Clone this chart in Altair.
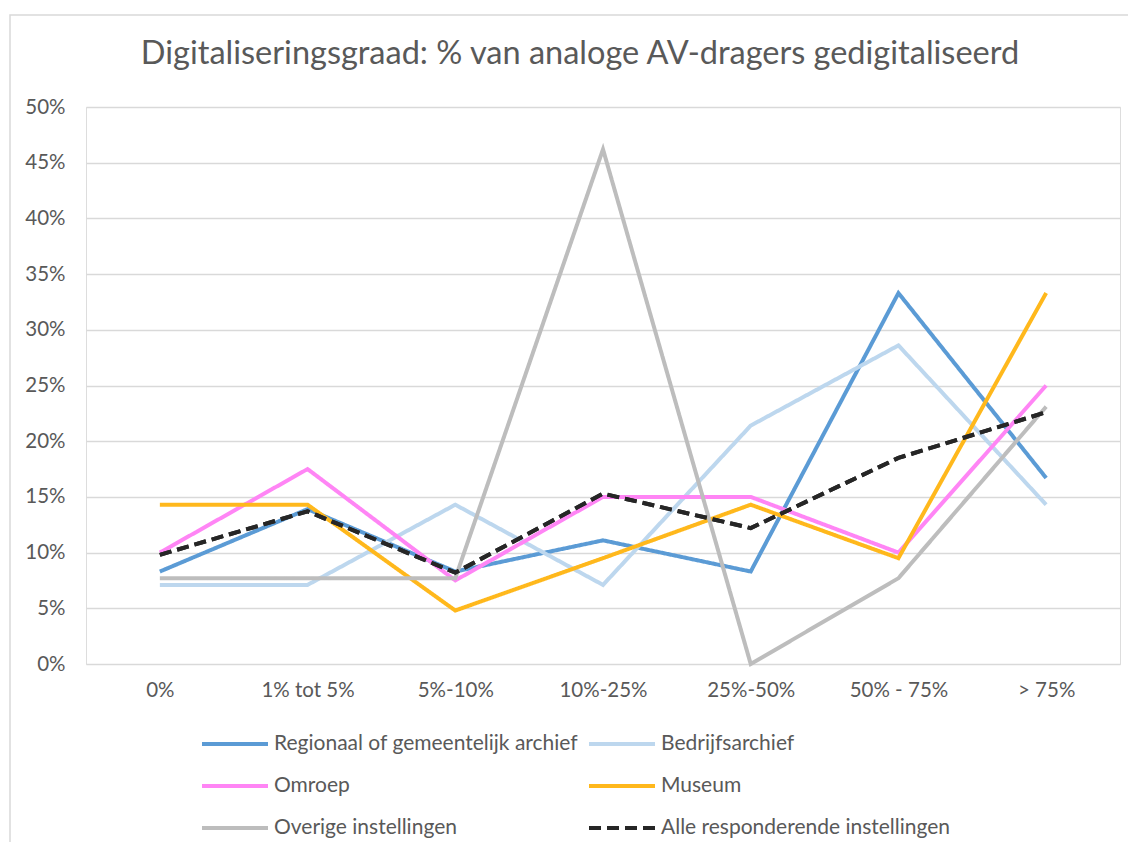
import altair as alt
import pandas as pd

categories = ["0%", "1% tot 5%", "5%-10%", "10%-25%", "25%-50%", "50% - 75%", "> 75%"]
series = [
    "Regionaal of gemeentelijk archief",
    "Bedrijfsarchief",
    "Omroep",
    "Museum",
    "Overige instellingen",
    "Alle responderende instellingen",
]
regionaal = [8.3, 13.9, 8.3, 11.1, 8.3, 33.3, 16.7]
bedrijfsarchief = [7.1, 7.1, 14.3, 7.1, 21.4, 28.6, 14.3]
omroep = [10.0, 17.5, 7.5, 15.0, 15.0, 10.0, 25.0]
museum = [14.3, 14.3, 4.8, 9.5, 14.3, 9.5, 33.3]
overige = [7.7, 7.7, 7.7, 46.2, 0.0, 7.7, 23.1]
alle = [9.8, 13.7, 8.2, 15.3, 12.2, 18.5, 22.6]
y_ticks = [0, 5, 10, 15, 20, 25, 30, 35, 40, 45, 50]

colors = ["#5B9BD5", "#BDD7EE", "#FF85F5", "#FFB81C", "#BDBDBD", "#262626"]
dashes = [[1, 0], [1, 0], [1, 0], [1, 0], [1, 0], [12, 6]]
widths = [4, 4, 4, 4, 4, 5]

values = [regionaal, bedrijfsarchief, omroep, museum, overige, alle]
rows = []
for s, vals in zip(series, values):
    for c, v in zip(categories, vals):
        rows.append({"reeks": s, "cat": c, "waarde": v / 100.0})
df = pd.DataFrame(rows)

FONT = "Lato"
TXT = "#595959"
W, H = 1034, 557

x_enc = alt.X(
    "cat:N",
    sort=categories,
    scale=alt.Scale(type="point", padding=0.5),
    axis=alt.Axis(
        title=None, labelAngle=0, ticks=False, domain=False, grid=False,
        labelFont=FONT, labelFontSize=20.5, labelColor=TXT, labelPadding=16,
    ),
)
y_enc = alt.Y(
    "waarde:Q",
    scale=alt.Scale(domain=[0, 0.5], nice=False),
    axis=alt.Axis(
        title=None, values=[t / 100 for t in y_ticks], format=".0%",
        ticks=False, domain=False, grid=True, gridColor="#D9D9D9", gridWidth=1.5,
        labelFont=FONT, labelFontSize=20.5, labelColor=TXT, labelPadding=21,
    ),
)
color_enc = alt.Color(
    "reeks:N",
    sort=series,
    scale=alt.Scale(domain=series, range=colors),
    legend=alt.Legend(
        title=None, orient="none", legendX=114, legendY=624, columns=2,
        direction="horizontal",
        symbolType="M-1,0L5,0", symbolSize=484, symbolStrokeWidth=4.5,
        labelFont=FONT, labelFontSize=21, labelColor=TXT, labelOffset=48,
        labelLimit=500, rowPadding=19, columnPadding=2, padding=0,
    ),
)
dash_enc = alt.StrokeDash(
    "reeks:N", sort=series,
    scale=alt.Scale(domain=series, range=dashes),
    legend=alt.Legend(title=None),
)
width_enc = alt.StrokeWidth(
    "reeks:N", scale=alt.Scale(domain=series, range=widths), legend=None
)

border = alt.Chart(pd.DataFrame({"a": [0]})).mark_rect(
    fill="transparent", stroke="#D9D9D9", strokeWidth=1.5
).encode(
    x=alt.value(-76), x2=alt.value(1070), y=alt.value(-92), y2=alt.value(780)
)

lines = alt.Chart(df).mark_line().encode(
    x=x_enc, y=y_enc, color=color_enc, strokeDash=dash_enc, strokeWidth=width_enc,
    detail="reeks:N",
)

top = alt.Chart(df[df["reeks"] == series[-1]]).mark_line().encode(
    x=x_enc, y=y_enc, color=color_enc, strokeDash=dash_enc, strokeWidth=width_enc,
)

chart = alt.layer(border, lines, top).properties(
    width=W, height=H,
    padding={"left": 78, "top": 99, "right": 8, "bottom": 178},
    autosize=alt.AutoSizeParams(type="none"),
    title=alt.TitleParams(
        "Digitaliseringsgraad: % van analoge AV-dragers gedigitaliseerd",
        font=FONT, fontSize=32.5, fontWeight="normal", color=TXT,
        anchor="middle", frame="group", dx=-23, offset=0,
        baseline="alphabetic", dy=82,
    ),
).configure_view(stroke=None).configure(background="white")

chart.save("out.html", embed_options={"renderer": "svg", "actions": False})
